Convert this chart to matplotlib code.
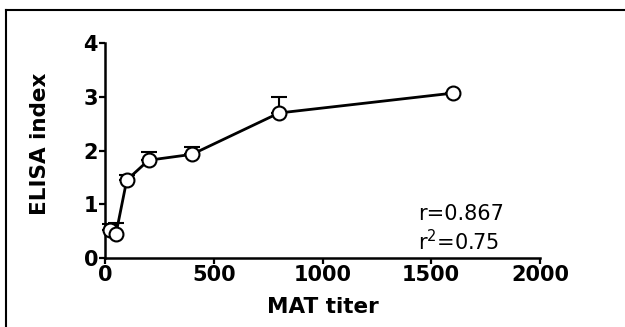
import matplotlib
matplotlib.use("Agg")
import matplotlib.pyplot as plt
from matplotlib.lines import Line2D

# data
mat_titer = [25, 50, 100, 200, 400, 800, 1600]
elisa_index = [0.52, 0.44, 1.45, 1.82, 1.93, 2.70, 3.07]
err_upper = [0.12, 0.22, 0.10, 0.15, 0.13, 0.30, 0.0]
err_lower = [0, 0, 0, 0, 0, 0, 0]

x_ticks = [0, 500, 1000, 1500, 2000]
y_ticks = [0, 1, 2, 3, 4]
stats_lines = ["r=0.867", "r$^2$=0.75"]

plt.rcParams["font.family"] = ["DejaVu Sans"]

fig = plt.figure(figsize=(6.25, 3.27), dpi=100)
ax = fig.add_axes([0.168, 0.211, 0.696, 0.657])

ax.errorbar(mat_titer, elisa_index, yerr=[err_lower, err_upper],
            fmt="-o", color="black", lw=2.0, ms=10, mfc="white", mec="black",
            mew=1.5, capsize=6, capthick=1.5, elinewidth=1.5, clip_on=False,
            zorder=3)

ax.set_xlim(0, 2000)
ax.set_ylim(0, 4)
ax.set_xticks(x_ticks)
ax.set_yticks(y_ticks)
ax.spines["top"].set_visible(False)
ax.spines["right"].set_visible(False)
for s in ("left", "bottom"):
    ax.spines[s].set_linewidth(1.8)
ax.tick_params(width=1.6, length=4, labelsize=15, pad=1)
for lab in ax.get_xticklabels() + ax.get_yticklabels():
    lab.set_fontweight("bold")

ax.set_xlabel("MAT titer", fontsize=15.5, fontweight="bold", labelpad=9)
ax.set_ylabel("ELISA index", fontsize=15.5, fontweight="bold", labelpad=24)
ax.yaxis.label.set_y(0.53)

ax.text(0.72, 0.205, stats_lines[0], transform=ax.transAxes, fontsize=15,
        ha="left", va="center")
ax.text(0.72, 0.075, stats_lines[1], transform=ax.transAxes, fontsize=15,
        ha="left", va="center")

# frame lines on top and left like the cropped source image
fig.add_artist(Line2D([0.0096, 1.0], [0.969, 0.969], color="black", lw=1.5,
                      transform=fig.transFigure))
fig.add_artist(Line2D([0.0096, 0.0096], [0.0, 0.969], color="black", lw=1.5,
                      transform=fig.transFigure))

fig.savefig("out.png", dpi=100)
